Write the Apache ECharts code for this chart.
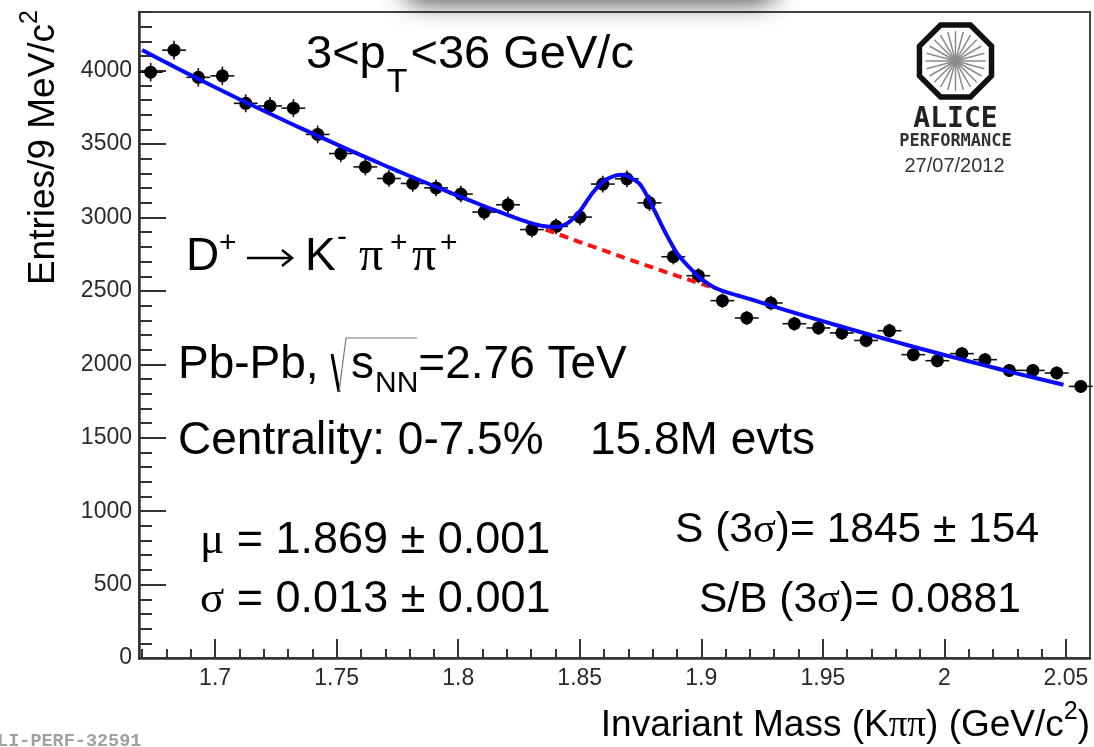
<!DOCTYPE html>
<html><head><meta charset="utf-8">
<script src="https://cdn.jsdelivr.net/npm/echarts@6/dist/echarts.min.js"></script>
<style>html,body{margin:0;padding:0;background:#fff;overflow:hidden}#c{width:1094px;height:747px}</style>
</head><body><div id="c"></div>
<script>
// ---------------- data ----------------
const binMass = [1.6735,1.6831,1.6931,1.7030,1.7126,1.7226,1.7322,1.7422,1.7517,1.7618,
                 1.7715,1.7813,1.7909,1.8011,1.8107,1.8205,1.8303,1.8403,1.8501,1.8595,
                 1.8694,1.8787,1.8885,1.8988,1.9087,1.9187,1.9286,1.9383,1.9482,1.9578,
                 1.9678,1.9774,1.9872,1.9971,2.0072,2.0167,2.0267,2.0364,2.0462,2.0561];
const entries = [3990,4140,3955,3965,3778,3760,3745,3566,3436,3345,
                 3266,3232,3202,3160,3037,3087,2918,2940,3003,3228,
                 3264,3100,2733,2604,2434,2316,2418,2277,2248,2214,
                 2163,2229,2066,2025,2073,2032,1959,1959,1941,1850];
const errors  = [63,64,63,63,61,61,61,60,59,58,
                 57,57,57,56,55,56,54,54,55,57,
                 57,56,52,51,49,48,49,48,47,47,
                 47,47,45,45,46,45,44,44,44,43];
const BIN_HALF = 0.0049;

const fitMass   = [1.670,1.68,1.69,1.70,1.71,1.72,1.73,1.74,1.75,1.76,1.77,1.78,1.79,1.80,1.81,
                   1.815,1.82,1.825,1.83,1.835,1.84,1.845,1.85,1.855,1.86,1.865,1.8675,1.87,1.875,
                   1.88,1.885,1.89,1.895,1.90,1.905,1.91,1.915,1.92,
                   1.93,1.94,1.95,1.96,1.97,1.98,1.99,2.00,2.01,2.02,2.03,2.04,2.049];
const fitValues = [4141,4055,3970,3887,3806,3727,3649,3573,3498,3425,3353,3283,3215,3148,3082,
                   3050,3020,2989,2962,2942,2935,2962,3042,3162,3250,3287,3291,3280,3222,
                   3072,2905,2758,2662,2582,2527,2493,2469,2445,
                   2393,2343,2294,2246,2199,2153,2108,2064,2021,1979,1937,1897,1861];
const bkgMass   = [1.836,1.85,1.87,1.89,1.905];
const bkgValues = [2918,2833,2716,2603,2522];

const X_MIN = 1.6687, X_MAX = 2.0599, Y_MIN = 0, Y_MAX = 4400;
const xMajorTicks = [1.7,1.75,1.8,1.85,1.9,1.95,2,2.05];
const xMinorTicks = [1.67,1.68,1.69,1.71,1.72,1.73,1.74,1.76,1.77,1.78,1.79,1.81,1.82,1.83,1.84,
                     1.86,1.87,1.88,1.89,1.91,1.92,1.93,1.94,1.96,1.97,1.98,1.99,2.01,2.02,2.03,2.04];
const yMajorTicks = [0,500,1000,1500,2000,2500,3000,3500,4000];
const yMinorTicks = [100,200,300,400,600,700,800,900,1100,1200,1300,1400,1600,1700,1800,1900,
                     2100,2200,2300,2400,2600,2700,2800,2900,3100,3200,3300,3400,3600,3700,3800,3900,
                     4100,4200,4300,4400];

// ---------------- text helpers ----------------
const SANS = '"Liberation Sans", Arial, sans-serif';
const SERIF = '"Liberation Serif", "DejaVu Serif", serif';
const MONO = '"Liberation Mono", "DejaVu Sans Mono", monospace';
const DVMONO = '"DejaVu Sans Mono", monospace';
const mctx = document.createElement('canvas').getContext('2d');
function fnt(s, f, w){ return (w || 'normal') + ' ' + s + 'px ' + f; }
function textW(t, s, f, w){ mctx.font = fnt(s, f, w); return mctx.measureText(t).width; }
function midOff(s, f, w){
  mctx.font = fnt(s, f, w); mctx.textBaseline = 'middle';
  const m = mctx.measureText('H'); mctx.textBaseline = 'alphabetic';
  return m.actualBoundingBoxDescent;
}
function txt(t, x, base, s, f, w, color, align){
  return {type:'text', x: x, y: base - midOff(s, f, w), z: 100,
    style:{text:t, font:fnt(s, f, w), fill:color || '#000',
      align:align || 'left', verticalAlign:'middle', textAlign:align || 'left', textVerticalAlign:'middle'}};
}
function segW(segs, S){
  let w = 0;
  for (const g of segs) w += (g.gap || 0) + textW(g.t, g.s || S, g.f || SANS, g.w);
  return w;
}
function line(x0, base, segs, S){
  S = S || 46;
  let x = x0; const els = [];
  for (const g of segs){
    const s = g.s || S, f = g.f || SANS;
    if (g.x !== undefined) x = g.x;
    x += g.gap || 0;
    els.push(txt(g.t, x, base + (g.dy || 0), s, f, g.w, g.color));
    x += textW(g.t, s, f, g.w);
  }
  return els;
}

const G = [];
// top shadow artifact
G.push({type:'rect', z:1, shape:{x:405, y:-36, width:370, height:36, r:14},
  style:{fill:'#fff', shadowBlur:26, shadowColor:'rgba(0,0,0,0.75)', shadowOffsetY:2}});

G.push(...line(306, 68, [{t:'3<p'}, {t:'T', s:34, dy:24, gap:1}, {t:'<36 GeV/c', gap:3}], 47));
G.push(...line(0, 270, [
  {t:'D', x:186}, {t:'+', s:30, dy:-18, x:219}, {t:'K', x:305},
  {t:'-', s:30, dy:-24, x:337}, {t:'\u03c0', f:SERIF, s:48, x:359}, {t:'+', s:30, dy:-18, x:390},
  {t:'\u03c0', f:SERIF, s:48, x:412}, {t:'+', s:30, dy:-18, x:440}]));
// arrow
G.push({type:'line', z:100, shape:{x1:247, y1:258, x2:291, y2:258}, style:{stroke:'#000', lineWidth:2.6}});
G.push({type:'polyline', z:100, shape:{points:[[282,250],[292,258],[282,266]]}, style:{stroke:'#000', lineWidth:2.6, fill:null}});

G.push(...line(178, 378, [{t:'Pb-Pb,'}, {t:'s', x:351}, {t:'NN', s:30, dy:14, gap:1}, {t:'=2.76 TeV'}]));
G.push({type:'polyline', z:100, shape:{points:[[332,354],[339,392]]}, style:{stroke:'#000', lineWidth:3, fill:null}});
G.push({type:'polyline', z:100, shape:{points:[[339,392],[346,338],[417,338]]}, style:{stroke:'#777', lineWidth:1.2, fill:null}});
G.push(...line(178, 454, [{t:'Centrality: 0-7.5%'}, {t:'15.8M evts', x:590}]));
G.push(...line(200, 553, [{t:'\u03bc', f:SERIF}, {t:' = 1.869 \u00b1 0.001'}], 45));
G.push(...line(200, 612, [{t:'\u03c3', f:SERIF}, {t:' = 0.013 \u00b1 0.001'}], 45));
G.push(...line(675, 542, [{t:'S (3'}, {t:'\u03c3', f:SERIF}, {t:')= 1845 \u00b1 154'}], 42.5));
G.push(...line(699, 612, [{t:'S/B (3'}, {t:'\u03c3', f:SERIF}, {t:')= 0.0881'}], 42.5));

// x axis title, right aligned at frame end
const xt = [{t:'Invariant Mass (K'}, {t:'\u03c0\u03c0', f:SERIF}, {t:') (GeV/c'}, {t:'2', s:25, dy:-17}, {t:')'}];
G.push(...line(1090 - segW(xt, 37), 736, xt, 37));
// y axis title, rotated, right aligned at top
const yt = [{t:'Entries/9 MeV/c'}, {t:'2', s:25, dy:-17}];
const ytW = segW(yt, 37);
G.push({type:'group', x:54, y:10 + ytW, rotation:Math.PI / 2, z:100, children: line(0, 0, yt, 37)});

// ALICE logo
const cx = 955.5, cy = 61, R = 39;
const oct = [];
for (let k = 0; k < 8; k++){ const a = (22.5 + 45 * k) * Math.PI / 180; oct.push([cx + R * Math.cos(a), cy + R * Math.sin(a)]); }
for (let k = 0; k < 24; k++){
  const a = k * 15 * Math.PI / 180;
  G.push({type:'line', z:99, shape:{x1:cx, y1:cy, x2:cx + 30 * Math.cos(a), y2:cy + 30 * Math.sin(a)}, style:{stroke:'#8a8a8a', lineWidth:1.5}});
}
G.push({type:'polygon', z:100, shape:{points:oct}, style:{fill:null, stroke:'#111', lineWidth:5.5}});
G.push(txt('ALICE', cx, 127, 28, DVMONO, 'bold', '#222', 'center'));
G.push(txt('PERFORMANCE', cx, 146, 17, DVMONO, 'bold', '#333', 'center'));
G.push(txt('27/07/2012', cx - 1, 172, 20, SANS, 'normal', '#333', 'center'));
G.push(txt('ALI-PERF-32591', -14, 746, 18.5, MONO, 'bold', '#a0a0a0'));

// ---------------- chart ----------------
function renderPoint(params, api){
  const m = api.value(0), v = api.value(1), e = api.value(2), h = api.value(3);
  const c = api.coord([m, v]);
  const l = api.coord([m - h, v]), r = api.coord([m + h, v]);
  const t = api.coord([m, v + e]), b = api.coord([m, v - e]);
  const ls = {stroke:'#111', lineWidth:1.6};
  return {type:'group', children:[
    {type:'line', shape:{x1:l[0], y1:l[1], x2:r[0], y2:r[1]}, style:ls},
    {type:'line', shape:{x1:t[0], y1:t[1], x2:b[0], y2:b[1]}, style:ls},
    {type:'circle', shape:{cx:c[0], cy:c[1], r:6.5}, style:{fill:'#000'}}
  ]};
}
const axisCol = '#333';
const labelStyle = {color:'#2a2a2a', fontSize:23, fontFamily:SANS};
const option = {
  animation:false,
  backgroundColor:'#fff',
  grid:{left:139, right:4, top:12, bottom:89, show:true, borderColor:'#444', borderWidth:2, backgroundColor:'transparent'},
  xAxis:[
    {type:'value', min:X_MIN, max:X_MAX, position:'bottom',
      axisLine:{show:true, onZero:false, lineStyle:{color:axisCol, width:2.5}},
      axisTick:{show:true, inside:true, length:19, customValues:xMajorTicks, lineStyle:{color:axisCol, width:2}},
      axisLabel:Object.assign({customValues:xMajorTicks, margin:9, formatter:v => String(v)}, labelStyle),
      splitLine:{show:false}},
    {type:'value', min:X_MIN, max:X_MAX, position:'bottom',
      axisLine:{show:false},
      axisTick:{show:true, inside:true, length:9, customValues:xMinorTicks, lineStyle:{color:axisCol, width:2}},
      axisLabel:{show:false}, splitLine:{show:false}}
  ],
  yAxis:[
    {type:'value', min:Y_MIN, max:Y_MAX, position:'left',
      axisLine:{show:true, onZero:false, lineStyle:{color:axisCol, width:2.5}},
      axisTick:{show:true, inside:true, length:27, customValues:yMajorTicks, lineStyle:{color:axisCol, width:2}},
      axisLabel:Object.assign({customValues:yMajorTicks, margin:7, formatter:v => String(v)}, labelStyle),
      splitLine:{show:false}},
    {type:'value', min:Y_MIN, max:Y_MAX, position:'left',
      axisLine:{show:false},
      axisTick:{show:true, inside:true, length:13, customValues:yMinorTicks, lineStyle:{color:axisCol, width:2}},
      axisLabel:{show:false}, splitLine:{show:false}}
  ],
  series:[
    {type:'custom', xAxisIndex:0, yAxisIndex:0, z:3, renderItem:renderPoint, encode:{x:0, y:1},
      data: binMass.map((m, i) => [m, entries[i], errors[i], BIN_HALF])},
    {type:'line', xAxisIndex:0, yAxisIndex:0, z:4, showSymbol:false, symbol:'none',
      data: bkgMass.map((m, i) => [m, bkgValues[i]]),
      lineStyle:{color:'#ff1010', width:4, type:[9, 6]}},
    {type:'line', xAxisIndex:0, yAxisIndex:0, z:5, showSymbol:false, symbol:'none', smooth:0.3,
      data: fitMass.map((m, i) => [m, fitValues[i]]),
      lineStyle:{color:'#0a0aff', width:4}}
  ],
  graphic:{elements:G}
};
const chart = echarts.init(document.getElementById('c'), null, {renderer:'canvas'});
chart.setOption(option);
</script>
</body></html>
